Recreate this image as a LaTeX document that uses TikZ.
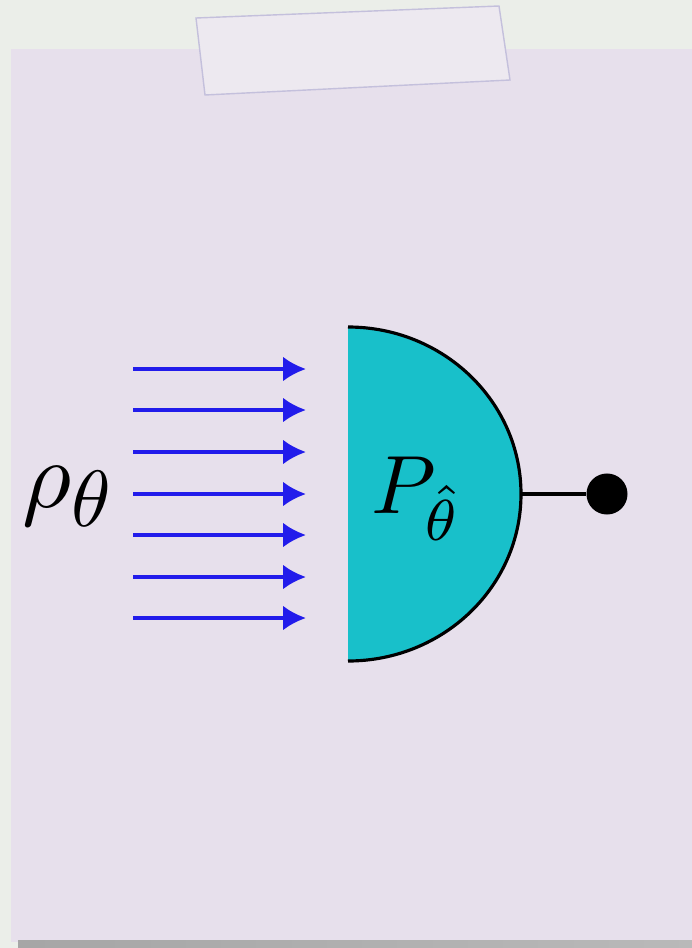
\documentclass[tikz,border=0pt]{standalone}
\usepackage{amsmath, amssymb}
\usepackage{graphicx}
\usepackage{xcolor}
\usepackage{tikz}
\usetikzlibrary{arrows.meta, positioning, calc}
\definecolor{wallgrey}{RGB}{235,238,233}
\definecolor{paperlilac}{RGB}{231,224,236}
\definecolor{tapelilac}{RGB}{237,233,240}
\definecolor{tapeedge}{RGB}{196,192,220}
\definecolor{detcyan}{RGB}{24,192,202}
\definecolor{beamblue}{RGB}{34,28,235}

\begin{document}
\begin{tikzpicture}[x=0.01cm, y=-0.01cm]
    \useasboundingbox (0,0) rectangle (692,948);
    % sheet, tape and wall
    \fill[wallgrey] (0,0) rectangle (692,948);
    \fill[paperlilac] (11,49) rectangle (692,942);
    \shade[left color=gray!70, right color=gray!55] (18,940) rectangle (692,948);
    \filldraw[fill=tapelilac, draw=tapeedge, line width=0.4pt]
        (196,18)--(499,6)--(510,80)--(205,95)--cycle;
    % incoming beam
    \foreach \y in {369,410,452,494,535,577,618}
        \draw[beamblue, line width=1pt, -{Latex[length=6.5pt,width=7pt]}]
            (133,\y)--(306,\y);
    \node[scale=2.7] (rho) at (67,497)
        {$\rho\raisebox{-0.2em}{\scalebox{0.84}{$\theta$}}$};
    % detector
    \coordinate (Dc) at (348,494);
    \coordinate (Dr) at (521,494);
    \fill[detcyan] (348,661) arc[start angle=90, end angle=-90,
        x radius=173, y radius=167] -- cycle;
    \draw[black, line width=0.9pt] (348,661) arc[start angle=90,
        end angle=-90, x radius=173, y radius=167];
    \node[scale=2.35] (P) at (417,499) {$P_{\hat{\theta}}$};
    \node[circle, fill=black, inner sep=0pt, minimum size=0.41cm]
        (dot) at (607,494) {};
    \draw[black, line width=1pt] (Dr)--(dot);
\end{tikzpicture}
\end{document}
